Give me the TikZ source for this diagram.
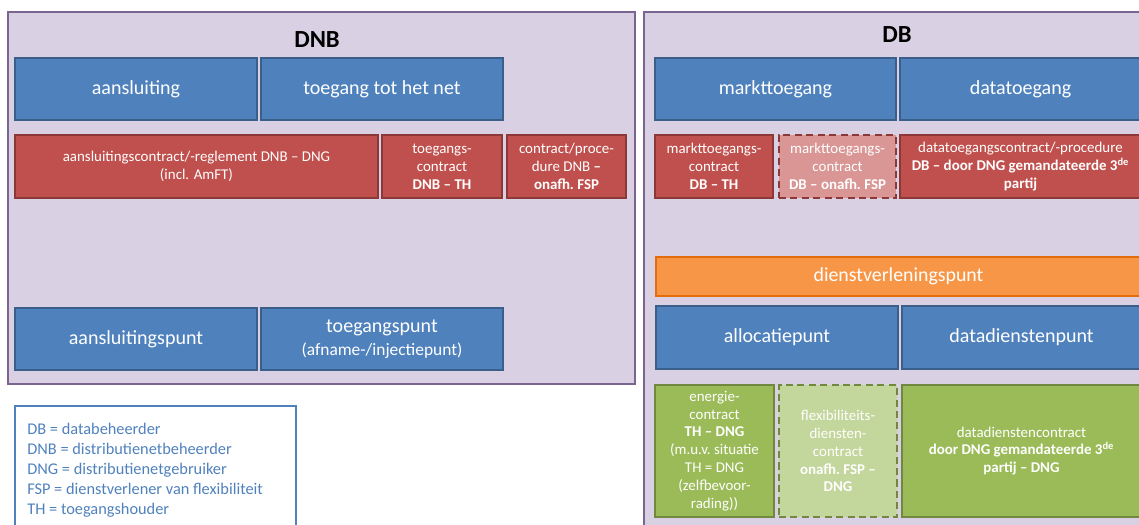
\documentclass[tikz,border=0pt]{standalone}
\usepackage{fontspec}
\setmainfont{Carlito}
\usepackage{xcolor}
\usepackage{tikz}
\definecolor{panel}{HTML}{D9D1E3}
\definecolor{panelline}{HTML}{7A6590}
\definecolor{bluefill}{HTML}{4F81BD}
\definecolor{blueline}{HTML}{3A5F8B}
\definecolor{redfill}{HTML}{C0504D}
\definecolor{redline}{HTML}{8C3836}
\definecolor{lightred}{HTML}{D99694}
\definecolor{orangefill}{HTML}{F79646}
\definecolor{orangeline}{HTML}{E46C0A}
\definecolor{greenfill}{HTML}{9BBB59}
\definecolor{greenline}{HTML}{71893F}
\definecolor{lightgreen}{HTML}{C3D69B}
\definecolor{legendblue}{HTML}{4F81BD}
\tikzset{
  panelbox/.style={fill=panel, draw=panelline, line width=1.2pt},
  title/.style={font=\bfseries\fontsize{14}{16}\selectfont},
  bluebox/.style={fill=bluefill, draw=blueline, line width=1pt, text=white, align=center, inner sep=0pt, font=\fontsize{11.4}{13}\selectfont},
  redbox/.style={fill=redfill, draw=redline, line width=1pt, text=white, align=center, inner sep=0pt, font=\fontsize{8.5}{10.2}\selectfont},
  lightredbox/.style={redbox, fill=lightred, dash pattern=on 4pt off 2.5pt},
  orangebox/.style={fill=orangefill, draw=orangeline, line width=1.2pt, text=white, align=center, inner sep=0pt, font=\fontsize{11.3}{13}\selectfont},
  greenbox/.style={fill=greenfill, draw=greenline, line width=1pt, text=white, align=center, inner sep=0pt, font=\fontsize{8.5}{10.2}\selectfont},
  lightgreenbox/.style={greenbox, fill=lightgreen, dash pattern=on 4pt off 2.5pt},
  legendbox/.style={draw=legendblue, line width=1pt},
  legendtext/.style={text=legendblue, align=left, inner sep=0pt, font=\fontsize{9.3}{11.3}\selectfont}
}

\begin{document}
\begin{tikzpicture}[x=0.02cm, y=-0.02cm]
  \useasboundingbox (0,0) rectangle (1139,524);
  \clip (0,0) rectangle (1139,524);

  % panels
  \draw[panelbox] (8,12) rectangle (635,384);
  \draw[panelbox] (644,12) rectangle (1160,560);
  \node[title] (dnb) at (317,40) {DNB};
  \node[title] (db) at (897,35) {DB};

  % DNB
  \node[bluebox, minimum width=4.84cm, minimum height=1.24cm] (aansl) at (136,89) {aansluiting};
  \node[bluebox, minimum width=4.84cm, minimum height=1.24cm] (toeg) at (382,89) {toegang tot het net};
  \node[redbox, minimum width=7.26cm, minimum height=1.26cm] (ascon) at (196.5,166.5) {aansluitingscontract/-reglement DNB -- DNG\\(incl. AmFT)};
  \node[redbox, minimum width=2.40cm, minimum height=1.26cm] (tgcon) at (442,166.5) {toegangs-\\contract\\\textbf{DNB -- TH}};
  \node[redbox, minimum width=2.38cm, minimum height=1.26cm] (fspcon) at (566.5,166.5) {contract/proce-\\dure DNB \textbf{--}\\\textbf{onafh.\ FSP}};
  \node[bluebox, minimum width=4.84cm, minimum height=1.24cm] (aanspt) at (136,339) {aansluitingspunt};
  \node[bluebox, minimum width=4.84cm, minimum height=1.24cm] (toegpt) at (382,339) {toegangspunt\\{\fontsize{9.9}{12}\selectfont(afname-/injectiepunt)}};

  % DB
  \node[bluebox, minimum width=4.82cm, minimum height=1.24cm] (markt) at (775.5,89) {markttoegang};
  \node[bluebox, minimum width=4.82cm, minimum height=1.24cm] (datat) at (1020.5,89) {datatoegang};
  \node[redbox, minimum width=2.36cm, minimum height=1.26cm] (mtcon) at (714,166.5) {markttoegangs-\\contract\\\textbf{DB -- TH}};
  \node[lightredbox, minimum width=2.34cm, minimum height=1.26cm] (mtfsp) at (837.5,166.5) {markttoegangs-\\contract\\\textbf{DB -- onafh.\ FSP}};
  \node[redbox, minimum width=4.82cm, minimum height=1.26cm] (dtcon) at (1020.5,166.5) {datatoegangscontract/-procedure\\\textbf{DB -- door DNG gemandateerde 3\textsuperscript{de}}\\\textbf{partij}};
  \node[orangebox, minimum width=9.70cm, minimum height=0.78cm] (dvp) at (898.5,276.5) {dienstverleningspunt};
  \node[bluebox, minimum width=4.84cm, minimum height=1.26cm] (alloc) at (777,337.5) {allocatiepunt};
  \node[bluebox, minimum width=4.78cm, minimum height=1.26cm] (ddp) at (1021.5,337.5) {datadienstenpunt};
  \node[greenbox, minimum width=2.38cm, minimum height=2.64cm] (encon) at (714.5,451) {energie-\\contract\\\textbf{TH -- DNG}\\(m.u.v.\ situatie\\TH = DNG\\(zelfbevoor-\\rading))};
  \node[lightgreenbox, minimum width=2.36cm, minimum height=2.64cm] (flex) at (838,451) {flexibiliteits-\\diensten-\\contract\\\textbf{onafh.\ FSP --}\\\textbf{DNG}};
  \node[greenbox, minimum width=4.78cm, minimum height=2.64cm] (ddcon) at (1021.5,451) {datadienstencontract\\\textbf{door DNG gemandateerde 3\textsuperscript{de}}\\\textbf{partij -- DNG}};

  % legend
  \draw[legendbox] (15,406) rectangle (296,560);
  \node[legendtext, anchor=north west] (legend) at (27,423) {DB = databeheerder\\DNB = distributienetbeheerder\\DNG = distributienetgebruiker\\FSP = dienstverlener van flexibiliteit\\TH = toegangshouder};
\end{tikzpicture}
\end{document}
